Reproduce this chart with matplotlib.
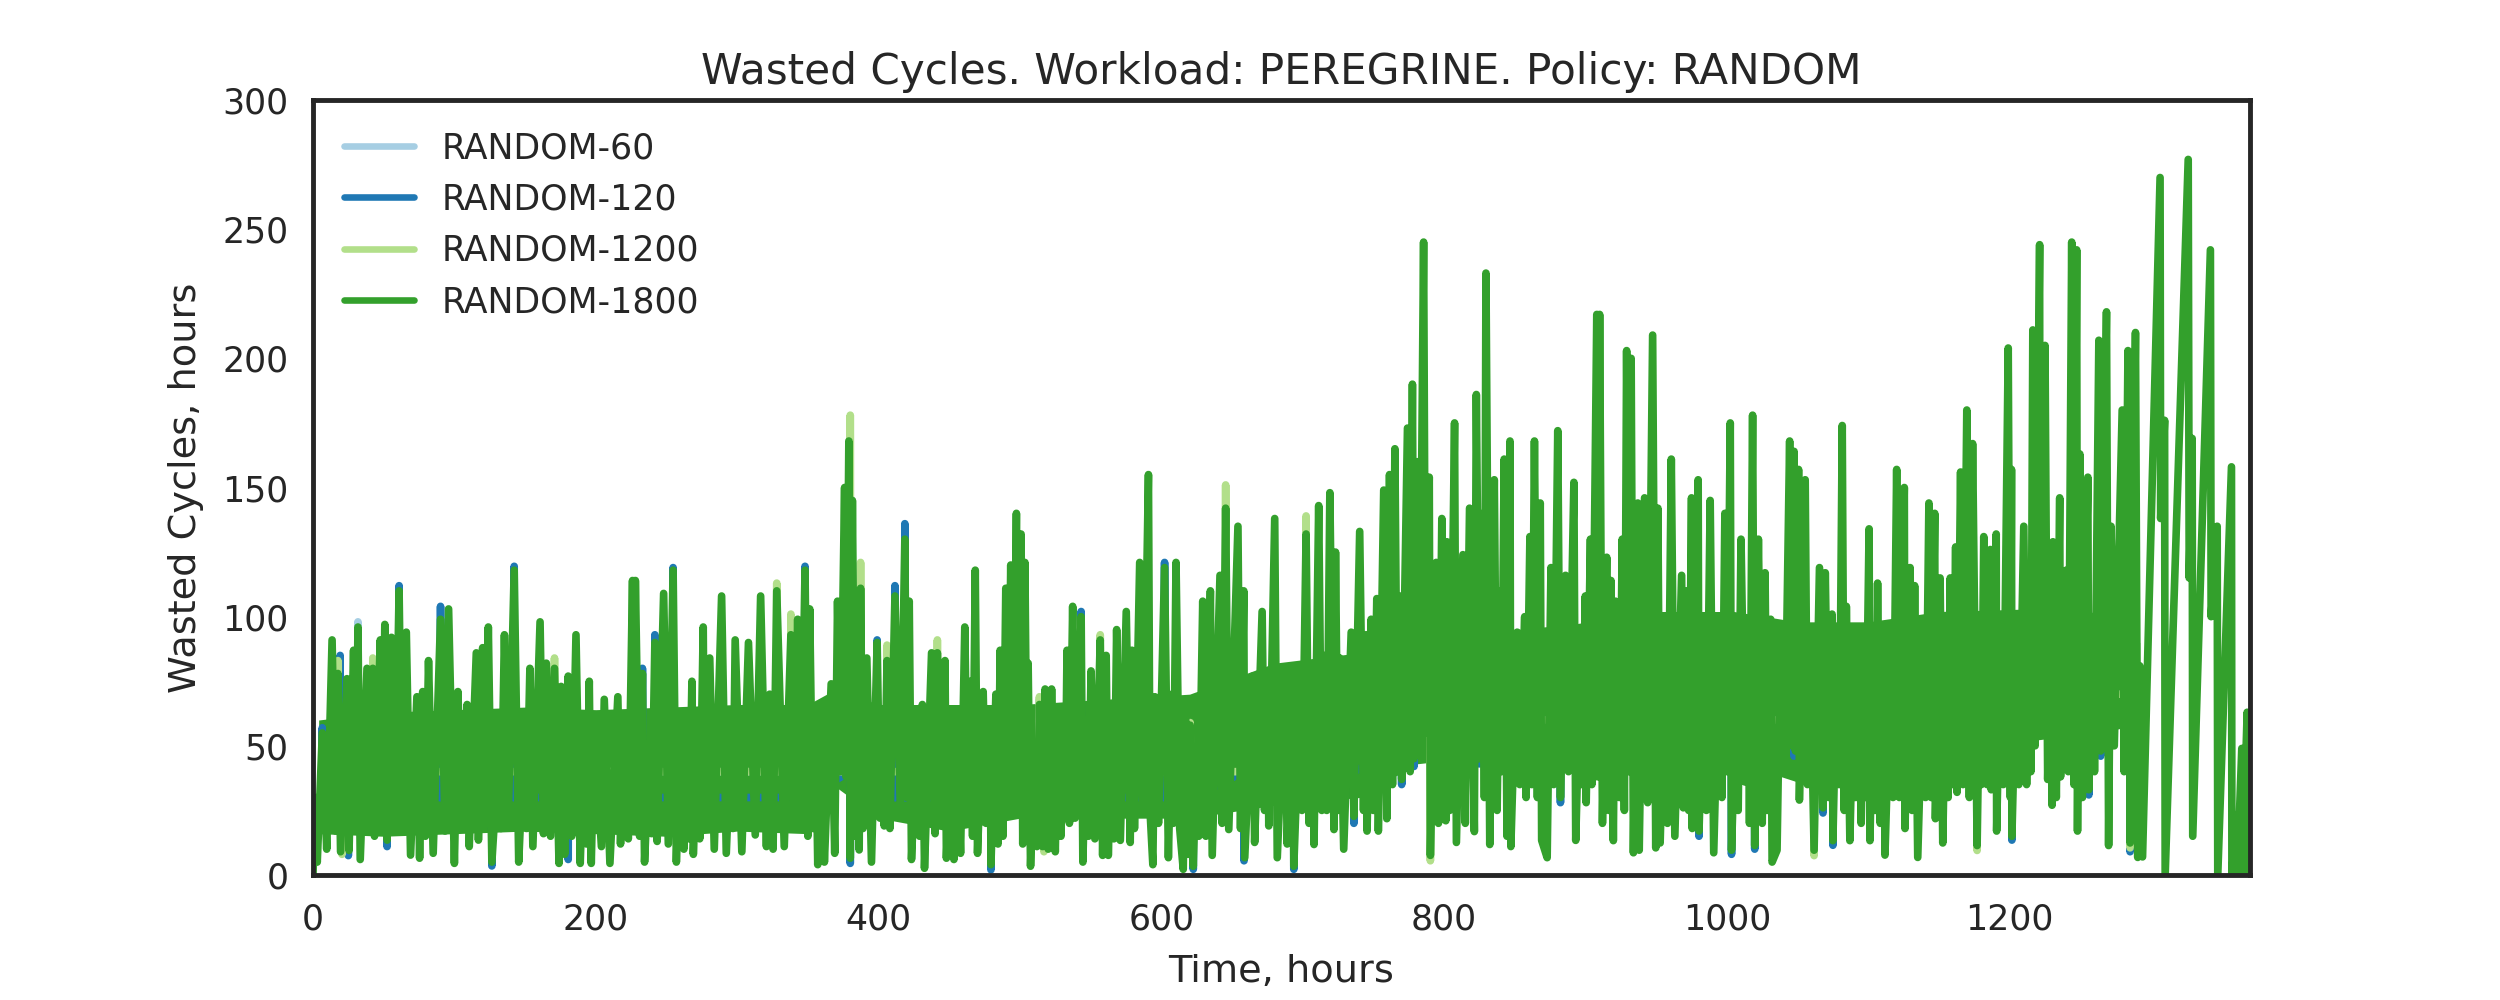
#importing needed libraries
import matplotlib
matplotlib.use("Agg")
import matplotlib.pyplot as plt
import seaborn as sns

# Series as (time in hours, wasted cycles in hours)
# RANDOM-1800 is the line on top, the other three only show at some peaks and dips
random_1800 = [
    (0, 0), (1.5, 30), (3, 5), (6.6, 55), (9.7, 10), (13.5, 91), (16, 17), (17.6, 78), (19.5, 9), (24, 76),
    (25.5, 9.5), (28.7, 87), (30.3, 20), (31.8, 96), (33.4, 6), (38.2, 80), (40, 18), (42.3, 80), (43.5, 15),
    (47.6, 91), (49, 20), (50.8, 97), (52.4, 13.5), (55.5, 92), (58, 20), (60.9, 110), (63, 20), (66, 94),
    (69, 7.7), (73.5, 69), (75.4, 6.5), (77.6, 71), (79.5, 15), (81.7, 83), (85, 8.4), (90.2, 99), (93.4, 17),
    (95.9, 103), (100, 4.5), (102.5, 71), (105, 20), (109, 66), (110.5, 11), (115.5, 86), (117, 13.5), (120, 88),
    (122, 20), (124, 96), (126.5, 5), (131, 45), (133, 18), (135.4, 93), (138, 20), (142.3, 118), (145.5, 5),
    (149, 50), (151, 18), (153.4, 80), (155.5, 11), (160.6, 98), (163, 16), (165, 82), (168, 15), (170.8, 80),
    (174, 4.5), (175.5, 73), (178, 8), (180.5, 77), (183, 15), (186, 93), (189, 4.5), (192, 60), (193.5, 12),
    (195.4, 75), (196.8, 4.5), (199, 57), (204, 11), (206, 68), (210, 4.5), (215.6, 69), (217.5, 12), (221, 60),
    (223, 14), (226, 114), (227, 20), (228, 114), (231, 15), (233, 78), (234.5, 5), (238, 50), (239.5, 16),
    (241.8, 90), (243.4, 13), (248, 109), (251.3, 12), (254.7, 118), (257, 5), (260, 57), (262.3, 10), (265, 50),
    (266, 14), (268, 75), (269, 8), (272, 55), (273.5, 14), (276, 96), (277, 18), (280.6, 84), (283.8, 10),
    (289, 108), (292.3, 8.4), (296, 60), (297, 18), (298.6, 91), (303.3, 9), (308, 90), (312.8, 15.5), (316.6, 108),
    (320.7, 11), (323, 70), (325.4, 10), (328, 110), (333.3, 11), (338, 93), (340, 19), (342.8, 99), (345, 20),
    (348, 118), (350, 15), (351.3, 103), (353.5, 18), (355.5, 60), (357, 4), (360, 47), (361.7, 5), (366.5, 74),
    (369, 8.4), (371, 106), (373, 40), (376, 150), (377, 38), (379, 168), (380, 6.5), (381.5, 145), (383.5, 15),
    (385.5, 100), (386.3, 9.7), (387.3, 111), (389, 18), (391.7, 84), (395, 5), (399, 90), (401, 22), (403, 50),
    (404, 19), (406, 83), (408, 18), (411.6, 108), (415.4, 26), (418.6, 130), (420, 30), (421.7, 106), (423.3, 6),
    (427, 55), (429, 15), (431, 66), (432.5, 2.6), (437.5, 86), (440, 16), (441.6, 86), (444, 20), (447, 83),
    (448, 6.5), (451, 50), (453.3, 6), (455, 61), (458, 8.4), (461, 96), (463, 20), (465, 75), (466.5, 15),
    (468.4, 118), (470, 8.4), (474, 71), (476, 20), (479, 60), (479.5, 4), (483, 70), (484.5, 12), (486, 87),
    (488, 15), (490, 111), (491.5, 25), (493.5, 120), (495, 26), (497.5, 140), (499, 28), (500.8, 132), (502, 12),
    (503.5, 121), (505, 30), (505.8, 82), (507.5, 3.4), (510.3, 50), (512, 11), (513.8, 66), (516, 11), (517.8, 72),
    (520, 10), (522.4, 72), (525, 9), (526.5, 59), (529, 15), (531, 65), (532, 22), (533.3, 87), (535, 20),
    (537.3, 104), (539, 22), (543.3, 100), (544.5, 5), (547, 60), (548.5, 15), (550.3, 79), (553, 14), (556.8, 91),
    (558.5, 7.6), (561, 85), (562.5, 7.6), (565, 60), (566.5, 14), (568.4, 95), (571, 13.4), (575.2, 102), (578, 12.6),
    (579.3, 87), (581, 18), (584.7, 121), (587, 25), (590.9, 155), (592, 25), (594, 4), (595.5, 69), (598, 20),
    (602.3, 119), (605, 6.7), (607.5, 70), (608.5, 20), (610.4, 121), (613, 18), (615.5, 2.2), (617, 67), (619, 8),
    (620.4, 58), (622.6, 3.4), (625, 50), (626.5, 15), (629.3, 106), (631.5, 15), (634.7, 110), (636, 7.6), (641.5, 116),
    (643, 20), (645.5, 142), (647.7, 17.6), (654.2, 135), (656, 18), (658.3, 110), (659, 6.7), (664.5, 77), (666, 12.6),
    (671.3, 102), (673, 25), (675.3, 75), (676, 19), (680.2, 138), (682, 6.7), (687.5, 79), (689, 12), (692.9, 71),
    (693.7, 3.4), (698, 70), (699.5, 25), (702.4, 132), (704.5, 20), (707.8, 70), (708, 11.8), (711.3, 143), (713.5, 25),
    (716, 85), (717, 25), (719.2, 148), (722.1, 17.6), (723.2, 125), (725, 25), (726.2, 84), (729, 10), (734.3, 94),
    (736.2, 22.7), (740.3, 133), (743, 25), (744.9, 93), (745.5, 17), (748.4, 99), (750, 25), (752.4, 107), (753.5, 17),
    (757.3, 149), (759.5, 21.8), (761.4, 155), (763.5, 35), (765.2, 165), (767, 40), (768.7, 108), (770, 37), (774.1, 173),
    (776, 40), (777.6, 190), (778.7, 45), (781, 160), (782.5, 50), (785.5, 245), (787, 55), (789.5, 154), (790.3, 7.6),
    (794.4, 121), (796, 20), (798.4, 138), (801.2, 21), (802, 129), (804, 25), (807.4, 175), (808.7, 12.6), (813.3, 124),
    (815, 20), (818, 142), (821.4, 16.8), (822.8, 186), (825, 45), (827.5, 140), (828.5, 30), (829.6, 233), (832.3, 11.8),
    (835.5, 153), (837.5, 25), (839.5, 110), (840.5, 40), (842.5, 161), (844.5, 15), (846.6, 168), (847.2, 11), (851.7, 94),
    (853.5, 35), (857, 100), (858, 30), (860.7, 131), (862, 35), (863.9, 168), (866, 30), (868, 144), (869, 13.4),
    (872.9, 6.7), (875.6, 119), (877.5, 35), (880.4, 172), (882.3, 30), (885.9, 116), (888, 40), (891.8, 152), (893.1, 13.4),
    (896, 75), (897.5, 35), (899.9, 108), (900.5, 28), (903.5, 130), (904.5, 35), (908, 217), (908.6, 38),
    (910, 217), (912, 20), (915, 123), (916.5, 25), (918, 114), (919.7, 13.3), (921.2, 106), (924, 30), (926, 130),
    (927.5, 25), (929.1, 203), (931, 40), (932.3, 200), (933.9, 8.6), (937, 144), (938, 9.6), (941.8, 146), (944, 28),
    (947.5, 209), (949.7, 10.5), (951.2, 142), (952.8, 12.4), (956, 80), (958, 20), (960.7, 161), (963.2, 15), (968, 116),
    (969.2, 26), (972, 110), (973, 25), (975, 146), (975.5, 18), (977, 80), (978, 20), (979.7, 153), (980.3, 17), (984, 90),
    (985.5, 25), (988.2, 145), (990.7, 8.6), (995, 100), (996.5, 30), (998.6, 140), (1000, 40), (1002.4, 175), (1003.3, 9.6),
    (1007, 80), (1008, 25), (1010, 130), (1012.8, 36), (1015, 90), (1016, 20), (1018.2, 178), (1019.7, 11.4), (1022.3, 130),
    (1025, 20), (1027, 117), (1028.5, 25), (1031, 99), (1032, 5), (1035.5, 9.6), (1038, 97), (1041, 45), (1044.4, 168),
    (1046, 50), (1047.5, 164), (1048.5, 48), (1050.7, 157), (1051.3, 29), (1055.4, 153), (1057, 35), (1058.6, 94), (1061.7, 9.6),
    (1065.5, 119), (1068, 26), (1069.6, 117), (1072, 30), (1074.4, 101), (1075, 13.3), (1078, 90), (1079.5, 35), (1081.6, 174),
    (1083, 25), (1084.5, 104), (1087, 13.3), (1090, 85), (1091, 30), (1092.7, 90), (1095, 20), (1097, 85), (1098, 30),
    (1100.6, 134), (1101.2, 13.3), (1103.5, 80), (1105, 25), (1106.6, 113), (1108.5, 20), (1111.3, 88), (1111.8, 7.7),
    (1116, 85), (1117.5, 30), (1120.1, 157), (1122, 30), (1125.5, 150), (1126, 18), (1129.6, 119), (1131, 25), (1132.8, 112),
    (1135, 6.8), (1139, 85), (1140.5, 30), (1142.9, 144), (1144.5, 30), (1147, 140), (1147.5, 21.8), (1150.8, 115), (1152.7, 12.4),
    (1155, 85), (1156.5, 30), (1158, 115), (1160, 35), (1161.8, 127), (1162.8, 32), (1165.3, 156), (1167, 35), (1169.7, 180),
    (1171.5, 30), (1173.8, 167), (1177, 11.4), (1179, 85), (1180, 35), (1181.7, 131), (1184, 35), (1186.4, 126), (1187, 33),
    (1190.5, 132), (1190.8, 17), (1194, 100), (1195.5, 35), (1199, 204), (1200.5, 30), (1201.3, 157), (1201.6, 15), (1205, 90),
    (1206.5, 35), (1210, 135), (1212, 35), (1214, 110), (1215, 40), (1216.4, 211), (1218, 50), (1221.2, 244), (1221.5, 56),
    (1225, 205), (1226.9, 37), (1229, 90), (1230, 27), (1230.6, 129), (1233, 30), (1235.4, 146), (1236, 38), (1240, 118),
    (1241.5, 40), (1243.9, 245), (1245.5, 35), (1247.4, 242), (1248, 17), (1249.6, 163), (1251.5, 30), (1255.3, 154), (1256, 33),
    (1259, 100), (1260, 40), (1263.1, 207), (1264.4, 48), (1268.5, 218), (1270, 11.4), (1271.7, 135), (1274, 50), (1279.6, 180),
    (1281, 40), (1283.7, 203), (1285.2, 12.4), (1289, 210), (1290.6, 6.8), (1292, 81), (1294, 7), (1306.4, 270), (1306.8, 138),
    (1309.6, 176), (1310, 0), (1326.3, 277), (1327, 115), (1329.1, 169), (1329.5, 15), (1342, 242), (1342.5, 100), (1346.8, 135),
    (1347.2, 0), (1356.9, 158), (1357.2, 0), (1360, 23), (1361, 0), (1364.2, 49), (1364.6, 0), (1368, 63), (1369, 0), (1370, 63),
]

# where RANDOM-1800 overplots itself into a solid band: lower and upper edge
band_hours = [4, 50, 100, 150, 200, 250, 300, 350, 370, 400, 450, 500, 560, 620, 680, 740, 780, 830, 890,
              950, 1005, 1050, 1100, 1150, 1215, 1260, 1292]
band_low = [16, 15, 16, 17, 16, 15, 17, 16, 34, 22, 17, 22, 22, 22, 27, 30, 43, 46, 46,
            46, 44, 36, 36, 48, 52, 55, 58]
band_high = [60, 63, 64, 65, 64, 65, 66, 66, 72, 66, 66, 66, 68, 70, 82, 86, 94, 94, 97,
             102, 102, 98, 98, 102, 103, 97, 90]

# the lower series, each one typed as spikes out of the green band
random_1200 = [
    (17.6, 40), (17.6, 83), (17.7, 40), (20.4, 40), (20.5, 8), (20.6, 40), (42.3, 40), (42.3, 84), (42.4, 40), (170.8, 40),
    (170.8, 84), (170.9, 40), (328, 40), (328, 113), (328.1, 40), (338, 40), (338, 101), (338.1, 40), (380, 40), (380, 178),
    (380.1, 40), (387.3, 40), (387.3, 121), (387.4, 40), (406, 40), (406, 89), (406.1, 40), (441.6, 40), (441.6, 91), (441.7, 40),
    (513.8, 40), (513.8, 69), (513.9, 40), (516.9, 40), (517, 9), (517.1, 40), (556.8, 40), (556.8, 93), (556.9, 40), (620.4, 40),
    (620.4, 59), (620.5, 40), (645.5, 40), (645.5, 151), (645.6, 40), (702.4, 40), (702.4, 139), (702.5, 40), (790.2, 60),
    (790.3, 5.5), (790.4, 60), (1061.6, 60), (1061.7, 7.5), (1061.8, 60), (1176.9, 70), (1177, 9.5), (1177.1, 70), (1285.1, 70),
    (1285.2, 10.5), (1285.3, 70),
]
random_120 = [
    (6.6, 30), (6.6, 57), (6.7, 30), (19.2, 30), (19.2, 85), (19.3, 30), (24.9, 30), (25, 7.5), (25.1, 30), (52.3, 30),
    (52.4, 11), (52.5, 30), (60.9, 30), (60.9, 112), (61, 30), (90.2, 30), (90.2, 104), (90.3, 30), (126.4, 30), (126.5, 3.5),
    (126.6, 30), (142.3, 30), (142.3, 119.5), (142.4, 30), (180.4, 30), (180.5, 6), (180.6, 30), (233, 30), (233, 80), (233.1, 30),
    (241.8, 30), (241.8, 93), (241.9, 30), (254.7, 30), (254.7, 119), (254.8, 30), (348, 30), (348, 119.5), (348.1, 30),
    (379.9, 40), (380, 4.5), (380.1, 30), (399, 30), (399, 91), (399.1, 30), (411.6, 30), (411.6, 112), (411.7, 30), (418.6, 30),
    (418.6, 136), (418.7, 30), (479.4, 30), (479.5, 2), (479.6, 30), (543.3, 30), (543.3, 102), (543.4, 30), (602.3, 30),
    (602.3, 121), (602.4, 30), (622.5, 30), (622.6, 2.2), (622.7, 30), (658.4, 40), (658.5, 5.5), (658.6, 40), (693.6, 40),
    (693.7, 2.2), (693.8, 40), (736.1, 40), (736.2, 20), (736.3, 40), (769.9, 50), (770, 35), (770.1, 60), (778.6, 60), (778.7, 42),
    (778.8, 60), (824.9, 60), (825, 43), (825.1, 60), (882.2, 60), (882.3, 28), (882.4, 60), (980.2, 60), (980.3, 15), (980.4, 60),
    (1003.2, 60), (1003.3, 8), (1003.4, 60), (1019.6, 60), (1019.7, 10), (1019.8, 60), (1047.4, 60), (1047.5, 46), (1047.6, 60),
    (1067.9, 60), (1068, 24), (1068.1, 60), (1074.9, 60), (1075, 11.5), (1075.1, 60), (1201.5, 70), (1201.6, 13.5), (1201.7, 70),
    (1255.9, 70), (1256, 31), (1256.1, 70), (1264.3, 70), (1264.4, 46), (1264.5, 70), (1285.1, 70), (1285.2, 9), (1285.3, 70),
]
random_60 = [(31.8, 40), (31.8, 98), (31.9, 40), (513.8, 40), (513.8, 68), (513.9, 40)]

series_names = ["RANDOM-60", "RANDOM-120", "RANDOM-1200", "RANDOM-1800"]
series_data = [random_60, random_120, random_1200, random_1800]
series_colors = ["#a6cee3", "#1f78b4", "#b2df8a", "#33a02c"]

sns.set_style("white")
plt.rcParams["font.family"] = ["DejaVu Sans"]
text_color = ".15"

fig, ax = plt.subplots(figsize=(10, 4), dpi=250)
fig.subplots_adjust(left=313 / 2500, right=2250 / 2500, top=1 - 100 / 1000, bottom=1 - 875 / 1000)

for name, points, color in zip(series_names, series_data, series_colors):
    hours = [p[0] for p in points]
    wasted = [p[1] for p in points]
    if name == "RANDOM-1800":
        ax.fill_between(band_hours, band_low, band_high, color=color, lw=0)
    ax.plot(hours, wasted, color=color, lw=2.2, label=name, solid_capstyle="round", solid_joinstyle="round")

ax.set_xlim(0, 1370)
ax.set_ylim(0, 300)
ax.set_title("Wasted Cycles. Workload: PEREGRINE. Policy: RANDOM", fontsize=12.15, color=text_color, pad=4.5)
ax.set_xlabel("Time, hours", fontsize=11, color=text_color, labelpad=5)
ax.set_ylabel("Wasted Cycles, hours", fontsize=11, color=text_color, labelpad=5.2)
ax.tick_params(labelsize=10, labelcolor=text_color)
ax.tick_params(axis="x", pad=4.5)
for spine in ax.spines.values():
    spine.set_linewidth(1.4)
    spine.set_color(text_color)
legend = ax.legend(loc="upper left", fontsize=10, frameon=False, labelspacing=0.5)
for handle in legend.get_lines():
    handle.set_linewidth(1.9)

plt.savefig("out.png", dpi=250)
